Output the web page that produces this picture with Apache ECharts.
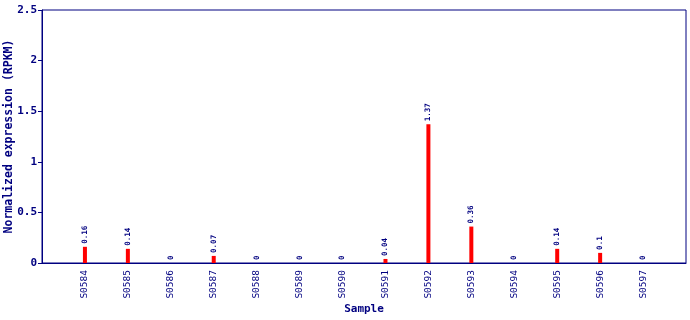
<!DOCTYPE html>
<html><head><meta charset="utf-8">
<script src="https://cdn.jsdelivr.net/npm/echarts@6/dist/echarts.min.js"></script>
<style>html,body{margin:0;padding:0;background:#fff}#c{width:690px;height:320px}</style>
</head><body><div id="c"></div>
<script>
var categories = ['S0584','S0585','S0586','S0587','S0588','S0589','S0590','S0591','S0592','S0593','S0594','S0595','S0596','S0597'];
var values = [0.16, 0.14, 0, 0.07, 0, 0, 0, 0.04, 1.37, 0.36, 0, 0.14, 0.1, 0];
var yTicks = [0, 0.5, 1, 1.5, 2, 2.5];

var navy = '#000080';
var mono = '"DejaVu Sans Mono", monospace';
var cats = [''].concat(categories, ['']);
var vals = [null].concat(values, [null]);

var chart = echarts.init(document.getElementById('c'));
chart.setOption({
  animation: false,
  grid: {left: 42, right: 4, top: 10, bottom: 57, containLabel: false, outerBoundsMode: 'none',
    show: true, borderColor: navy, borderWidth: 1, backgroundColor: 'transparent'},
  xAxis: {
    type: 'category', data: cats, boundaryGap: false,
    name: 'Sample', nameLocation: 'middle', nameGap: 41, nameMoveOverlap: false,
    nameTextStyle: {color: navy, fontFamily: mono, fontWeight: 'bold', fontSize: 11},
    axisLine: {lineStyle: {color: navy}},
    axisTick: {show: false},
    axisLabel: {rotate: 90, color: navy, fontFamily: mono, fontSize: 9.5, margin: 7, interval: 0},
    splitLine: {show: false}
  },
  yAxis: {
    type: 'value', min: 0, max: 2.5, interval: 0.5,
    name: 'Normalized expression (RPKM)', nameLocation: 'middle', nameGap: 27, nameMoveOverlap: false,
    nameTextStyle: {color: navy, fontFamily: mono, fontWeight: 'bold', fontSize: 11.5},
    axisLine: {show: true, lineStyle: {color: navy}},
    axisTick: {show: true, length: 4, lineStyle: {color: navy}},
    axisLabel: {color: navy, fontFamily: mono, fontWeight: 'bold', fontSize: 11, margin: 5,
      formatter: function(v){ return yTicks.indexOf(v) >= 0 ? String(v) : ''; }},
    splitLine: {show: false}
  },
  series: [{
    type: 'bar', data: vals, barWidth: 4,
    itemStyle: {color: '#ff0000'},
    label: {show: true, position: 'top', rotate: 90, distance: 3, align: 'left', verticalAlign: 'middle',
      color: navy, fontFamily: mono, fontSize: 7.5, fontWeight: 'bold',
      formatter: function(p){ return String(p.value); }}
  }]
});
</script></body></html>
